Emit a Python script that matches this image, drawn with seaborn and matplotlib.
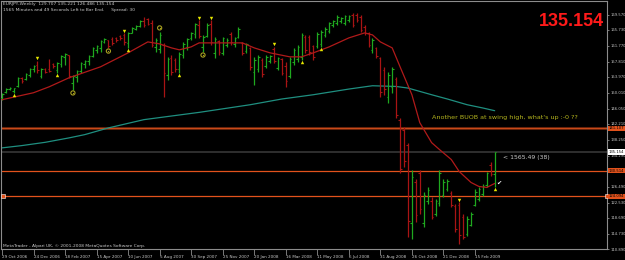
import matplotlib
matplotlib.use('Agg')
import matplotlib.pyplot as plt
import matplotlib.transforms as mtransforms
import numpy as np
import pandas as pd
import seaborn as sns

# ---------------- data (EURJPY weekly) ----------------
highs = [
    150.02, 151.27, 151.52, 151.27, 154.01, 154.01, 155.01, 156.26, 157.01, 158.01,
    156.26, 156.26, 158.51, 157.51, 157.76, 159.51, 160.01, 159.51, 154.51, 155.76,
    157.76, 158.26, 159.51, 161.50, 162.00, 163.25, 163.75, 163.25, 164.00, 164.00,
    164.50, 165.00, 165.25, 166.50, 167.00, 168.25, 168.99, 168.75, 168.25, 163.75,
    165.25, 162.50, 159.01, 159.51, 158.76, 160.26, 162.75, 163.75, 165.25, 167.50,
    168.25, 164.50, 167.50, 168.25, 164.00, 163.25, 164.00, 163.75, 165.25, 164.00,
    166.50, 162.75, 162.50, 161.50, 159.01, 159.51, 158.76, 159.51, 159.51, 161.50,
    159.01, 158.76, 157.76, 159.01, 161.25, 162.00, 165.00, 164.50, 164.50, 162.00,
    165.25, 165.75, 166.50, 167.75, 168.25, 169.49, 168.99, 169.49, 169.49, 169.99,
    169.99, 169.49, 167.00, 165.25, 163.75, 161.50, 159.01, 156.51, 155.26, 156.51,
    154.01, 143.78, 141.53, 137.53, 130.79, 128.30, 130.79, 125.05, 126.30, 123.80,
    123.30, 130.79, 128.30, 128.30, 125.30, 122.05, 122.55, 119.56, 119.06, 120.06,
    125.80, 126.30, 127.05, 130.29, 132.79, 135.221]
lows = [
    148.27, 150.02, 150.77, 150.02, 151.52, 152.52, 153.26, 154.01, 155.26, 155.01,
    153.76, 155.01, 155.26, 156.26, 155.01, 156.51, 157.01, 153.76, 150.77, 152.77,
    155.01, 156.26, 157.01, 159.01, 160.01, 160.26, 162.50, 161.25, 162.00, 162.75,
    163.25, 162.00, 161.25, 165.00, 165.75, 166.50, 166.50, 167.00, 161.50, 160.26,
    160.01, 149.02, 153.26, 154.51, 155.26, 155.01, 158.76, 160.76, 163.25, 163.75,
    163.75, 160.26, 164.00, 162.00, 158.76, 159.51, 159.51, 161.50, 162.00, 161.50,
    163.75, 159.51, 160.01, 155.76, 152.02, 155.26, 154.01, 156.26, 157.51, 157.51,
    155.76, 154.51, 151.52, 153.76, 157.01, 157.76, 158.26, 160.01, 159.51, 158.26,
    161.25, 161.50, 164.00, 165.00, 166.50, 167.00, 167.50, 167.00, 167.75, 166.50,
    167.75, 165.25, 164.50, 161.50, 160.01, 158.76, 149.02, 149.52, 147.52, 150.02,
    143.78, 130.04, 131.54, 113.81, 113.31, 117.56, 119.56, 116.31, 122.05, 118.31,
    119.06, 121.55, 123.80, 125.30, 121.30, 115.06, 112.07, 113.31, 114.06, 116.56,
    121.55, 122.80, 124.05, 126.30, 129.05, 126.486]
opens = [
    148.6, 150.1, 150.9, 150.4, 151.7, 153.7, 153.4, 154.5, 155.9, 157.0,
    154.2, 156.0, 155.9, 157.3, 155.6, 157.3, 158.9, 159.4, 152.5, 153.9,
    155.4, 157.1, 157.9, 159.3, 160.6, 161.2, 162.8, 163.1, 163.5, 163.8,
    164.2, 164.4, 162.4, 165.1, 166.0, 166.8, 168.1, 168.4, 167.4, 161.4,
    161.0, 162.0, 154.5, 158.8, 158.2, 155.9, 159.5, 161.5, 163.6, 164.8,
    167.1, 161.5, 164.3, 167.3, 160.0, 162.9, 160.0, 162.0, 164.7, 162.1,
    164.0, 162.5, 160.4, 161.2, 155.2, 156.0, 158.2, 156.7, 157.9, 160.9,
    156.3, 158.4, 156.8, 154.3, 157.6, 158.4, 159.0, 164.0, 163.9, 161.6,
    161.7, 162.2, 164.5, 165.6, 166.9, 167.6, 167.9, 167.5, 168.2, 169.4,
    169.6, 169.0, 166.6, 164.9, 160.7, 161.1, 158.6, 155.8, 149.0, 151.5,
    153.5, 143.2, 140.6, 136.9, 117.5, 127.6, 129.8, 117.5, 122.8, 123.0,
    119.6, 122.3, 124.3, 125.8, 124.9, 121.6, 121.8, 118.9, 114.6, 117.0,
    122.0, 123.3, 124.6, 126.8, 131.9, 129.707]
closes = [
    149.8, 151.0, 151.3, 151.1, 153.6, 152.9, 154.8, 156.0, 156.8, 155.6,
    155.9, 155.3, 155.5, 156.6, 157.4, 159.1, 159.8, 154.3, 154.2, 155.5,
    157.5, 158.0, 159.2, 161.2, 161.8, 162.9, 163.5, 161.8, 162.4, 163.1,
    163.6, 162.6, 164.9, 166.2, 166.8, 168.0, 166.9, 167.3, 162.0, 163.2,
    164.6, 155.0, 158.4, 155.3, 156.0, 159.8, 162.3, 163.4, 165.0, 167.2,
    164.3, 164.1, 167.0, 162.6, 163.4, 160.2, 163.6, 163.3, 162.6, 163.7,
    166.0, 160.0, 162.1, 156.5, 158.3, 159.0, 154.6, 159.0, 159.2, 158.0,
    158.6, 155.0, 153.0, 158.5, 160.8, 161.5, 164.4, 160.8, 160.3, 158.9,
    164.8, 165.3, 166.1, 167.4, 168.0, 169.1, 168.7, 169.2, 169.3, 167.0,
    168.3, 165.8, 164.9, 162.0, 163.3, 159.1, 150.2, 151.0, 154.5, 155.9,
    144.5, 131.0, 133.0, 118.0, 129.0, 119.5, 121.0, 124.3, 125.7, 119.0,
    122.8, 129.9, 127.6, 127.9, 121.8, 116.0, 114.5, 114.0, 118.4, 119.6,
    125.2, 125.8, 126.7, 129.8, 129.707, 135.154]

date_labels = ['29 Oct 2006', '24 Dec 2006', '18 Feb 2007', '15 Apr 2007',
               '10 Jun 2007', '5 Aug 2007', '30 Sep 2007', '25 Nov 2007',
               '20 Jan 2008', '16 Mar 2008', '11 May 2008', '6 Jul 2008',
               '31 Aug 2008', '26 Oct 2008', '21 Dec 2008', '15 Feb 2009']
WEEKS_PER_LABEL = 8

# moving averages, read at a number of bars
fast_ma_bar = [0, 8, 12, 17, 25, 32, 37, 40, 43, 45, 48, 50, 55, 61, 64, 68, 73, 76,
               79, 83, 88, 92, 94, 96, 99, 101, 104, 106, 109, 111, 114, 116, 119,
               121, 123, 125]
fast_ma_val = [148.27, 150.02, 151.52, 153.76, 156.51, 160.01, 162.75, 162.25, 161.25,
               160.76, 161.50, 162.50, 162.50, 162.50, 161.25, 160.01, 159.01, 159.01,
               160.01, 161.50, 163.75, 165.00, 164.50, 162.75, 161.25, 156.51, 149.52,
               142.53, 137.53, 135.79, 133.29, 130.29, 127.55, 126.55, 126.30, 127.30]
slow_ma_bar = [0, 5, 11, 17, 21, 27, 36, 50, 63, 71, 79, 88, 94, 100, 103, 109, 113,
               118, 122, 125]
slow_ma_val = [136.21, 136.78, 137.61, 138.71, 139.53, 141.21, 143.28, 145.10, 147.02,
               148.45, 149.52, 150.94, 151.77, 151.59, 151.19, 149.52, 148.45, 147.02,
               146.20, 145.52]

# fractal / signal markers (bar numbers)
up_arrow_bars = [3, 14, 32, 45, 76, 81, 125]
down_arrow_bars = [9, 31, 50, 53, 69, 116]
circle_below_bars = [18, 27, 51]
circle_above_bars = [40]

level_lines = [141.107, 130.514, 124.094]
bid_price = 135.154
price_scale = [169.570, 165.730, 161.770, 157.810, 153.970, 150.010, 146.050, 142.210,
               138.250, 134.290, 130.450, 126.490, 122.530, 118.690, 114.730, 110.890]

# ---------------- style ----------------
GREEN = '#1fa81f'
RED = '#a81414'
MA_RED = '#b01a1a'
TEAL = '#1f8f80'
ORANGE = '#e2521c'
YELLOW = '#e6e600'
OLIVE = '#a8a020'
GREY_TXT = '#c8c8c8'
FS_Y = 2.7      # right price scale
FS_X = 3.0      # date scale
FS_TXT = 3.2    # header / footer

sns.set_style('dark', {'axes.facecolor': 'black', 'figure.facecolor': 'black',
                       'axes.edgecolor': '#8c8c8c', 'grid.color': 'black'})
plt.rcParams['font.family'] = ['DejaVu Sans']

fig = plt.figure(figsize=(6.25, 2.6), dpi=100)
fig.patch.set_facecolor('black')
ax = fig.add_axes([1 / 625, 11 / 260, 606 / 625, 248 / 260])
ax.set_facecolor('black')

df = pd.DataFrame({'bar': np.arange(len(highs)), 'open': opens, 'high': highs,
                   'low': lows, 'close': closes})
bar_col = np.where(df['close'] >= df['open'], GREEN, RED)

# horizontal levels first (behind bars)
ax.axhline(level_lines[0], color='#5a1e08', lw=2.2, zorder=1)
ax.axhline(level_lines[0], color='#c84a1a', lw=0.9, zorder=1)
for lv in level_lines[1:]:
    ax.axhline(lv, color=ORANGE, lw=0.9, zorder=1)
ax.axhline(bid_price, color='#3c3c3c', lw=1.1, zorder=1)

# OHLC bars
ax.vlines(df['bar'], df['low'], df['high'], colors=bar_col, lw=0.9, zorder=3)
ax.hlines(df['open'], df['bar'] - 0.4, df['bar'], colors=bar_col, lw=0.8, zorder=3)
ax.hlines(df['close'], df['bar'], df['bar'] + 0.4, colors=bar_col, lw=0.8, zorder=3)

# moving averages
sns.lineplot(x=slow_ma_bar, y=slow_ma_val, ax=ax, color=TEAL, lw=0.9, legend=False, zorder=2)
sns.lineplot(x=fast_ma_bar, y=fast_ma_val, ax=ax, color=MA_RED, lw=0.9, legend=False, zorder=4)

# markers
sns.scatterplot(x=up_arrow_bars, y=df['low'].iloc[up_arrow_bars].values - 0.6, ax=ax,
                marker='^', s=6, color=YELLOW, linewidth=0, zorder=5)
sns.scatterplot(x=down_arrow_bars, y=df['high'].iloc[down_arrow_bars].values + 0.6, ax=ax,
                marker='v', s=6, color=YELLOW, linewidth=0, zorder=5)
circ_x = circle_below_bars + circle_above_bars
circ_y = list(df['low'].iloc[circle_below_bars].values - 0.8) + \
    list(df['high'].iloc[circle_above_bars].values + 1.0)
sns.scatterplot(x=circ_x, y=circ_y, ax=ax, marker='o', s=9, facecolor='none',
                edgecolor=OLIVE, linewidth=0.8, zorder=5)
sns.scatterplot(x=circ_x, y=circ_y, ax=ax, marker='o', s=0.8, color=OLIVE,
                linewidth=0, zorder=5)

# axes / scales
ax.set_xlim(-0.25, 153.5)
ax.set_ylim(111.07, 172.99)
ax.grid(False)
for sp in ax.spines.values():
    sp.set_color('#8c8c8c')
    sp.set_linewidth(0.8)

# scale labels that sit under a price box are hidden, as in the terminal
covered = [v for v in price_scale if any(abs(v - lv) < 0.5 for lv in level_lines)]
ax.yaxis.tick_right()
ax.set_yticks(price_scale)
ax.set_yticklabels(['' if v in covered else f'{v:.3f}' for v in price_scale])
ax.tick_params(axis='y', colors='#8c8c8c', labelcolor=GREY_TXT, labelsize=FS_Y,
               length=1.5, width=0.6, pad=1.0, right=True, left=False)

ticks = list(range(0, WEEKS_PER_LABEL * len(date_labels), WEEKS_PER_LABEL))
ax.set_xticks(ticks)
ax.set_xticklabels(date_labels, ha='left')
ax.tick_params(axis='x', colors='#8c8c8c', labelcolor=GREY_TXT, labelsize=FS_X,
               length=4, width=0.6, pad=0.5, bottom=True)
ax.set_xlabel('')
ax.set_ylabel('')

# price boxes on the right scale
yblend = mtransforms.blended_transform_factory(ax.transAxes, ax.transData)
for lv in level_lines:
    ax.text(1.003, lv, f'{lv:.3f}', transform=yblend, fontsize=FS_Y, color='black',
            va='center', ha='left', clip_on=False, zorder=10,
            bbox=dict(boxstyle='square,pad=0.2', fc=ORANGE, ec='none'))
ax.text(1.003, bid_price, f'{bid_price:.3f}', transform=yblend, fontsize=FS_Y,
        color='black', va='center', ha='left', clip_on=False, zorder=10,
        bbox=dict(boxstyle='square,pad=0.2', fc='white', ec='none'))
sns.scatterplot(x=[0.003, 1.0], y=[level_lines[2]] * 2, ax=ax, marker='s', s=5,
                color=ORANGE, edgecolor='white', linewidth=0.4, transform=yblend,
                clip_on=False, zorder=9)

# texts
fig.text(3 / 625, 1 - 4.5 / 260, 'EURJPY,Weekly  129.707 135.221 126.486 135.154',
         fontsize=FS_TXT, color=GREY_TXT, va='center', ha='left')
fig.text(3 / 625, 1 - 10.5 / 260,
         '1565 Minutes and 49 Seconds Left to Bar End.     Spread: 30',
         fontsize=FS_TXT, color=GREY_TXT, va='center', ha='left')
fig.text(604 / 625, 1 - 21 / 260, '135.154', fontsize=13, fontweight='bold',
         family='Liberation Sans', color='#ff1a1a', va='center', ha='right')
fig.text(432 / 625, 1 - 118 / 260, "Another BUOB at swing high, what's up :-0 ??",
         fontsize=4.6, color='#b4b41e', va='center', ha='left')
fig.text(503 / 625, 1 - 157 / 260, '< 1565.49 (38)', fontsize=4.4, color=GREY_TXT,
         va='center', ha='left')
fig.text(499 / 625, 1 - 183 / 260, '\u2714', fontsize=4.5, color='white',
         va='center', ha='center')
fig.text(3 / 625, 1 - 245.5 / 260,
         'MetaTrader - Alpari UK, \u00a9 2001-2008 MetaQuotes Software Corp.',
         fontsize=FS_TXT, color=GREY_TXT, va='center', ha='left')

fig.savefig('out.png', dpi=100, facecolor='black')
